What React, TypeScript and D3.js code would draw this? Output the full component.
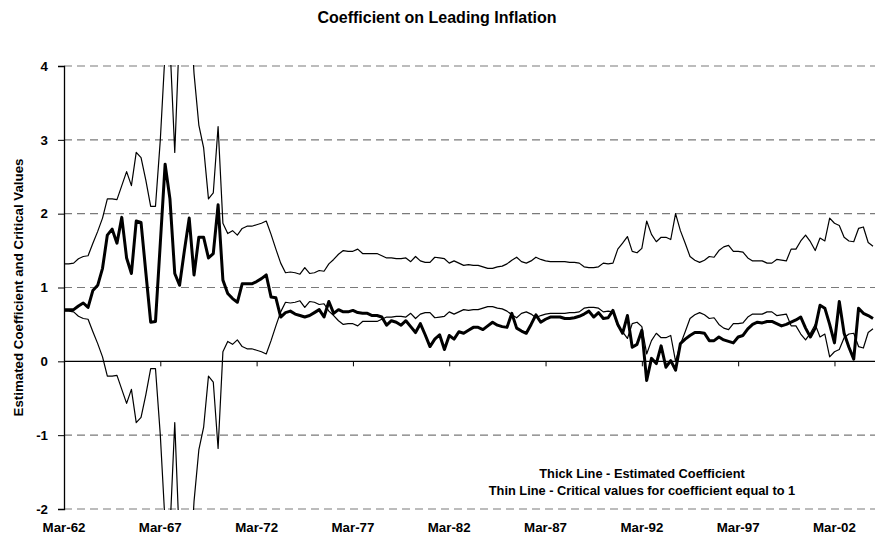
import React, { useEffect, useRef } from "react";
import * as d3 from "d3";

// quarterly observations, Mar-62 onwards
const tickLabels = ["Mar-62", "Mar-67", "Mar-72", "Mar-77", "Mar-82", "Mar-87", "Mar-92", "Mar-97", "Mar-02"];
const yTicks = [-2, -1, 0, 1, 2, 3, 4];

const estimated = [
  0.70, 0.70, 0.70, 0.75, 0.79, 0.73, 0.96, 1.03, 1.26, 1.71,
  1.79, 1.60, 1.95, 1.40, 1.19, 1.90, 1.88, 1.20, 0.53, 0.54,
  1.60, 2.67, 2.20, 1.19, 1.03, 1.50, 1.94, 1.17, 1.68, 1.68,
  1.40, 1.46, 2.12, 1.10, 0.92, 0.85, 0.80, 1.05, 1.05, 1.05,
  1.08, 1.12, 1.17, 0.87, 0.86, 0.60, 0.66, 0.68, 0.64, 0.62,
  0.60, 0.62, 0.66, 0.70, 0.60, 0.81, 0.65, 0.70, 0.67, 0.67,
  0.69, 0.66, 0.65, 0.65, 0.62, 0.62, 0.60, 0.49, 0.55, 0.53,
  0.49, 0.55, 0.47, 0.39, 0.51, 0.36, 0.20, 0.30, 0.36, 0.16,
  0.35, 0.30, 0.40, 0.38, 0.42, 0.46, 0.46, 0.43, 0.48, 0.53,
  0.49, 0.47, 0.46, 0.65, 0.45, 0.41, 0.38, 0.50, 0.63, 0.53,
  0.57, 0.60, 0.60, 0.60, 0.58, 0.58, 0.59, 0.61, 0.64, 0.68,
  0.60, 0.66, 0.58, 0.59, 0.69, 0.50, 0.38, 0.62, 0.19, 0.23,
  0.42, -0.26, 0.04, -0.03, 0.21, -0.08, 0.01, -0.12, 0.24, 0.30,
  0.35, 0.39, 0.39, 0.38, 0.28, 0.28, 0.33, 0.29, 0.27, 0.25,
  0.33, 0.35, 0.44, 0.50, 0.53, 0.52, 0.54, 0.54, 0.51, 0.48,
  0.50, 0.53, 0.56, 0.60, 0.45, 0.33, 0.45, 0.76, 0.72, 0.50,
  0.25, 0.81, 0.38, 0.19, 0.03, 0.72, 0.65, 0.62, 0.58,
];

const upperCritical = [
  1.32, 1.32, 1.33, 1.39, 1.42, 1.43, 1.60, 1.76, 1.94, 2.20,
  2.20, 2.19, 2.38, 2.57, 2.38, 2.83, 2.76, 2.45, 2.10, 2.10,
  3.00, 4.20, 4.30, 2.83, 4.50, 5.50, 5.00, 3.90, 3.20, 2.89,
  2.20, 2.28, 3.18, 1.87, 1.73, 1.77, 1.71, 1.80, 1.83, 1.83,
  1.85, 1.87, 1.90, 1.72, 1.52, 1.33, 1.20, 1.21, 1.20, 1.18,
  1.27, 1.19, 1.20, 1.23, 1.22, 1.32, 1.38, 1.45, 1.50, 1.49,
  1.49, 1.52, 1.46, 1.46, 1.46, 1.46, 1.43, 1.40, 1.40, 1.39,
  1.39, 1.40, 1.35, 1.42, 1.36, 1.34, 1.34, 1.41, 1.40, 1.39,
  1.33, 1.36, 1.33, 1.30, 1.31, 1.30, 1.30, 1.28, 1.26, 1.26,
  1.28, 1.29, 1.32, 1.37, 1.41, 1.35, 1.33, 1.36, 1.41, 1.38,
  1.36, 1.35, 1.35, 1.35, 1.35, 1.34, 1.34, 1.33, 1.28, 1.27,
  1.27, 1.28, 1.33, 1.32, 1.33, 1.52, 1.60, 1.69, 1.49, 1.47,
  1.53, 1.90, 1.72, 1.62, 1.68, 1.68, 1.65, 2.00, 1.77, 1.60,
  1.42, 1.37, 1.34, 1.37, 1.42, 1.41, 1.50, 1.55, 1.57, 1.49,
  1.49, 1.48, 1.40, 1.36, 1.36, 1.36, 1.33, 1.33, 1.38, 1.37,
  1.36, 1.52, 1.52, 1.63, 1.71, 1.62, 1.50, 1.67, 1.63, 1.94,
  1.87, 1.84, 1.68, 1.63, 1.62, 1.80, 1.82, 1.61, 1.56,
];

const lowerCritical = [
  0.68, 0.68, 0.67, 0.61, 0.58, 0.57, 0.40, 0.24, 0.06, -0.20,
  -0.20, -0.19, -0.38, -0.57, -0.38, -0.83, -0.76, -0.45, -0.10, -0.10,
  -1.00, -2.20, -2.30, -0.83, -2.50, -3.50, -3.00, -1.90, -1.20, -0.89,
  -0.20, -0.28, -1.18, 0.13, 0.27, 0.23, 0.29, 0.20, 0.17, 0.17,
  0.15, 0.13, 0.10, 0.28, 0.48, 0.67, 0.80, 0.79, 0.80, 0.82,
  0.73, 0.81, 0.80, 0.77, 0.78, 0.68, 0.62, 0.55, 0.50, 0.51,
  0.51, 0.48, 0.54, 0.54, 0.54, 0.54, 0.57, 0.60, 0.60, 0.61,
  0.61, 0.60, 0.65, 0.58, 0.64, 0.66, 0.66, 0.59, 0.60, 0.61,
  0.67, 0.64, 0.67, 0.70, 0.69, 0.70, 0.70, 0.72, 0.74, 0.74,
  0.72, 0.71, 0.68, 0.63, 0.59, 0.65, 0.67, 0.64, 0.59, 0.62,
  0.64, 0.65, 0.65, 0.65, 0.65, 0.66, 0.66, 0.67, 0.72, 0.73,
  0.73, 0.72, 0.67, 0.68, 0.67, 0.48, 0.40, 0.31, 0.51, 0.53,
  0.47, 0.10, 0.28, 0.38, 0.32, 0.32, 0.35, 0.00, 0.23, 0.40,
  0.58, 0.63, 0.66, 0.63, 0.58, 0.59, 0.50, 0.45, 0.43, 0.51,
  0.51, 0.52, 0.60, 0.64, 0.64, 0.64, 0.67, 0.67, 0.62, 0.63,
  0.64, 0.48, 0.48, 0.37, 0.29, 0.38, 0.50, 0.33, 0.37, 0.06,
  0.13, 0.16, 0.32, 0.37, 0.38, 0.20, 0.18, 0.39, 0.44,
];

const FONT = "Arial, 'Liberation Sans', sans-serif";

export default function App() {
  const ref = useRef<SVGSVGElement>(null);

  useEffect(() => {
    const W = 875;
    const H = 545;
    const left = 64;
    const right = 873;
    const top = 66;
    const bottom = 509;

    const svg = d3.select(ref.current);
    svg.selectAll("*").remove();

    const x = d3.scaleLinear().domain([0, estimated.length - 1]).range([left, right]);
    const y = d3.scaleLinear().domain([-2, 4]).range([bottom, top]);

    svg.append("rect").attr("width", W).attr("height", H).attr("fill", "white");

    svg
      .append("defs")
      .append("clipPath")
      .attr("id", "plot-clip")
      .append("rect")
      .attr("x", left)
      .attr("y", top - 1)
      .attr("width", W - left)
      .attr("height", bottom - top + 2);

    // dashed gridlines
    svg
      .append("g")
      .selectAll("line")
      .data(yTicks.filter((t) => t !== 0))
      .join("line")
      .attr("x1", left)
      .attr("x2", W)
      .attr("y1", (d) => y(d))
      .attr("y2", (d) => y(d))
      .attr("stroke", "#7a7a7a")
      .attr("stroke-width", 1.2)
      .attr("stroke-dasharray", "8,5");

    // y axis (plain hyphen for negatives, like the original)
    const yAxis = svg
      .append("g")
      .attr("transform", `translate(${left},0)`)
      .call(d3.axisLeft(y).tickValues(yTicks).tickSize(6).tickPadding(10).tickFormat((d) => String(d)));
    yAxis.select(".domain").attr("stroke", "#000").attr("stroke-width", 1.3);
    yAxis.selectAll("line").attr("stroke", "#000");
    yAxis
      .selectAll("text")
      .attr("font-family", FONT)
      .attr("font-size", 13.3)
      .attr("font-weight", "bold")
      .attr("fill", "#000");

    // category axis crossing at zero
    const xTicks = tickLabels.map((_, i) => i * 20);
    const xAxis = svg
      .append("g")
      .attr("transform", `translate(0,${y(0)})`)
      .call(d3.axisBottom(x).tickValues(xTicks).tickSize(5).tickFormat(() => ""));
    xAxis.select(".domain").attr("stroke", "#000").attr("stroke-width", 1.3).attr("d", `M${left},0H${W}`);
    xAxis.selectAll("line").attr("stroke", "#000");

    svg
      .append("g")
      .selectAll("text")
      .data(tickLabels)
      .join("text")
      .attr("x", (_, i) => x(i * 20))
      .attr("y", 532)
      .attr("text-anchor", "middle")
      .attr("font-family", FONT)
      .attr("font-size", 13.3)
      .attr("font-weight", "bold")
      .text((d) => d);

    const line = d3
      .line<number>()
      .x((_, i) => x(i))
      .y((d) => y(d));

    const plot = svg.append("g").attr("clip-path", "url(#plot-clip)");

    [upperCritical, lowerCritical].forEach((s) => {
      plot
        .append("path")
        .datum(s)
        .attr("fill", "none")
        .attr("stroke", "#000")
        .attr("stroke-width", 1.2)
        .attr("stroke-linejoin", "round")
        .attr("d", line);
    });

    plot
      .append("path")
      .datum(estimated)
      .attr("fill", "none")
      .attr("stroke", "#000")
      .attr("stroke-width", 3)
      .attr("stroke-linejoin", "round")
      .attr("d", line);

    // title
    svg
      .append("text")
      .attr("x", 437)
      .attr("y", 23)
      .attr("text-anchor", "middle")
      .attr("font-family", FONT)
      .attr("font-size", 16)
      .attr("font-weight", "bold")
      .text("Coefficient on Leading Inflation");

    // y axis title
    svg
      .append("text")
      .attr("transform", `translate(23,${(top + bottom) / 2}) rotate(-90)`)
      .attr("text-anchor", "middle")
      .attr("font-family", FONT)
      .attr("font-size", 13.3)
      .attr("font-weight", "bold")
      .text("Estimated Coefficient and Critical Values");

    // notes
    const notes = ["Thick Line - Estimated Coefficient", "Thin Line - Critical values for coefficient equal to 1"];
    svg
      .append("g")
      .selectAll("text")
      .data(notes)
      .join("text")
      .attr("x", 642)
      .attr("y", (_, i) => 478 + i * 17)
      .attr("text-anchor", "middle")
      .attr("font-family", FONT)
      .attr("font-size", 12.8)
      .attr("font-weight", "bold")
      .text((d) => d);

    return () => {
      svg.selectAll("*").remove();
    };
  }, []);

  return (
    <svg
      ref={ref}
      width={875}
      height={545}
      style={{ position: "absolute", left: 0, top: 0, display: "block" }}
    />
  );
}
